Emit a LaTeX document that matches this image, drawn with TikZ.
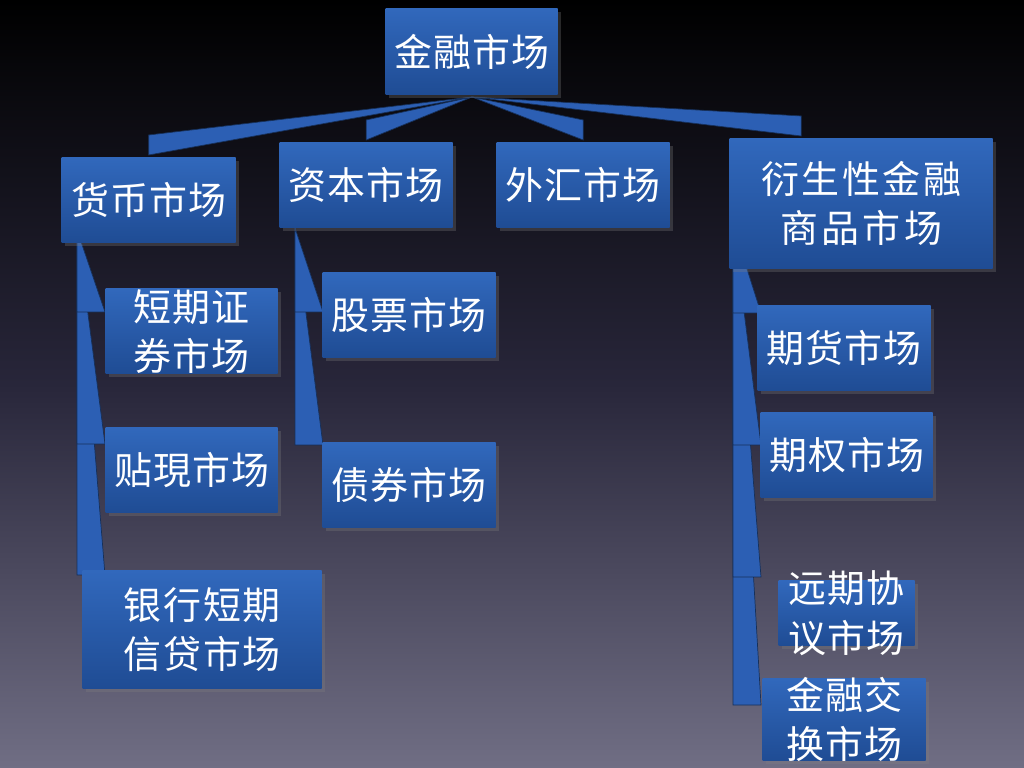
\documentclass[tikz,border=0pt]{standalone}
\usepackage{fontspec}
\setmainfont{Noto Sans CJK SC}
\XeTeXlinebreaklocale "zh"
\XeTeXlinebreakskip=0pt plus 1pt
\usetikzlibrary{calc,shadows}
\pgfdeclarelayer{bg}
\pgfsetlayers{bg,main}
\definecolor{boxtop}{HTML}{3168BC}
\definecolor{boxbot}{HTML}{1F4C94}
\definecolor{connblue}{HTML}{2C5FB4}
\tikzset{
  mbox/.style={rectangle,inner sep=0pt,top color=boxtop,bottom color=boxbot,
    drop shadow={opacity=0.3,shadow xshift=0.3mm,shadow yshift=-0.3mm}},
  mtext/.style={text=white,align=center,inner sep=0pt,
    font=\fontsize{10.8}{14}\selectfont},
  conn/.style={fill=connblue,draw=black!50!connblue,line width=0.2pt}
}
% box from corner to corner, text over it
\newcommand{\mkbox}[7]{%
  \node[mbox,anchor=north west,minimum width=#4*0.1mm-#2*0.1mm,
    minimum height=#5*0.1mm-#3*0.1mm] (#1) at (#2,#3) {};
  \node[mtext,text width=#6mm] (#1t) at (#1) {#7};}
% wedge from apex down to a child
\newcommand{\wedgeL}[3]{%
  \fill[conn] (#1) -- ($(#1 |- #2.north)+(28,#3)$) -- ($(#1 |- #2.north)+(0,#3)$) -- cycle;}
\newcommand{\wedgeT}[2]{%
  \fill[conn] (top) -- ($(#1.north)+(#2,-22)$) -- ($(#1.north)+(#2,-2)$) -- cycle;}
\begin{document}
\begin{tikzpicture}[x=0.1mm,y=-0.1mm]
\begin{pgfonlayer}{bg}
\shade[top color=black,bottom color={rgb,255:red,112;green,110;blue,132},middle color={rgb,255:red,40;green,38;blue,58}]
  (0,0) rectangle (1024,768);
\end{pgfonlayer}
\useasboundingbox (0,0) rectangle (1024,768);

\mkbox{jr}{385}{8}{557}{94}{20}{金融市场}
\mkbox{hb}{61}{157}{235}{242}{20}{货币市场}
\mkbox{zb}{279}{142}{452}{227}{20}{资本市场}
\mkbox{wh}{496}{142}{669}{227}{20}{外汇市场}
\mkbox{ys}{729}{138}{992}{268}{31.5}{衍生性金融商品市场}
\mkbox{dq}{105}{288}{277}{373}{17}{短期证券市场}
\mkbox{tx}{105}{427}{277}{512}{20}{贴現市场}
\mkbox{yh}{82}{570}{321}{688}{24}{银行短期信贷市场}
\mkbox{gp}{322}{272}{495}{357}{20}{股票市场}
\mkbox{zq}{322}{442}{495}{527}{20}{债券市场}
\mkbox{qh}{757}{305}{930}{390}{20}{期货市场}
\mkbox{qq}{760}{412}{932}{497}{20}{期权市场}
\mkbox{yq}{778}{580}{914}{645}{16.5}{远期协议市场}
\mkbox{jh}{762}{678}{925}{760}{16.5}{金融交换市场}

\coordinate (top) at (472,97);
\coordinate (hba) at (77,230);
\coordinate (zba) at (295,228);
\coordinate (ysa) at (733,225);
\begin{pgfonlayer}{bg}
\wedgeT{hb}{0}
\wedgeT{zb}{0}
\wedgeT{wh}{0}
\wedgeT{ys}{-60}
\wedgeL{hba}{yh}{5}
\wedgeL{hba}{tx}{17}
\wedgeL{hba}{dq}{24}
\wedgeL{zba}{zq}{3}
\wedgeL{zba}{gp}{40}
\wedgeL{ysa}{jh}{27}
\wedgeL{ysa}{yq}{-3}
\wedgeL{ysa}{qq}{33}
\wedgeL{ysa}{qh}{8}
\end{pgfonlayer}
\end{tikzpicture}
\end{document}
